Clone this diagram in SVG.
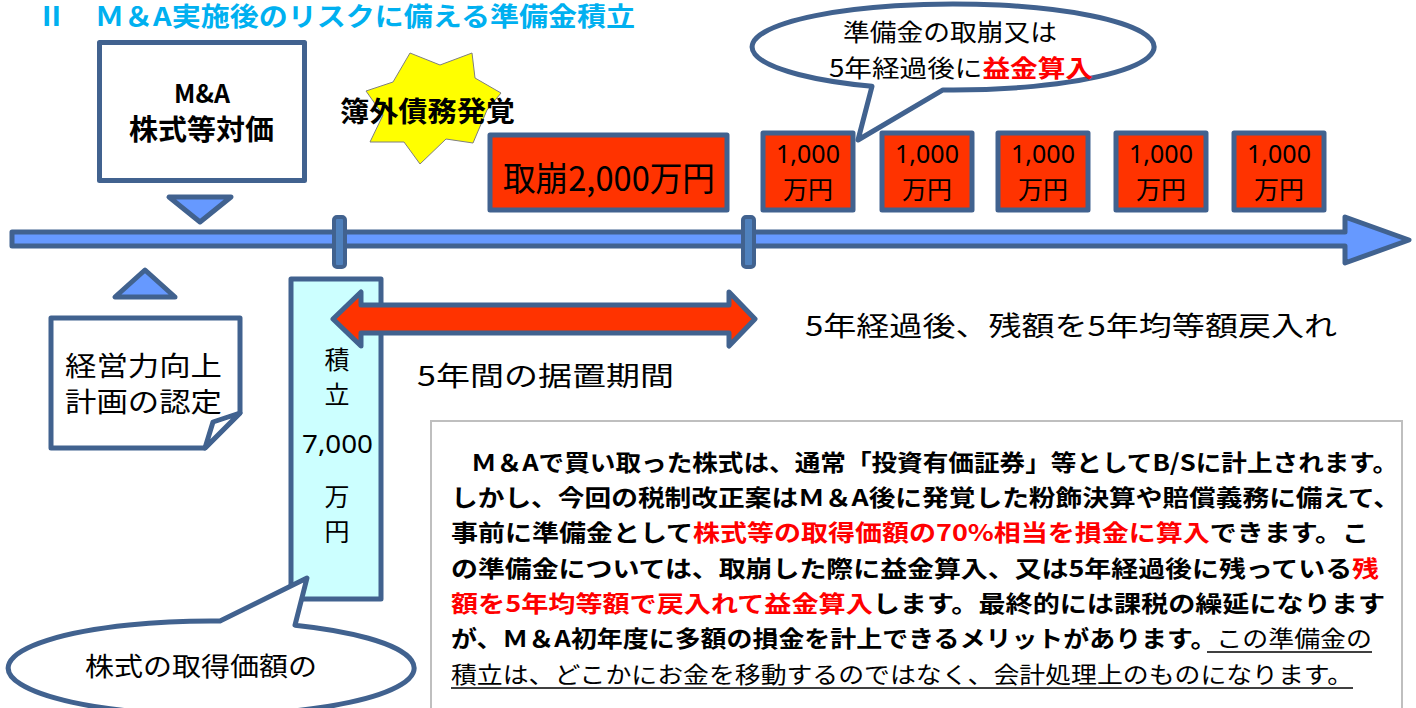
<svg xmlns="http://www.w3.org/2000/svg" width="1416" height="708" viewBox="0 0 1416 708">
<style>
text{font-family:"Noto Sans CJK JP","Noto Sans",sans-serif;fill:#000}
.b{font-weight:bold}
.r{fill:#FF0000}
.ln{stroke:#41628F;stroke-width:5;stroke-linejoin:round}
.lb{fill:#6699FF}
.red{fill:#FF3300}
.num{font-family:"Noto Sans","Noto Sans CJK JP",sans-serif}
.body{font-size:23px;font-weight:bold}
.reg{font-weight:normal}
</style>
<rect width="1416" height="708" fill="#fff"/>
<text x="37" y="26" font-size="26" class="b" style="fill:#00B0F0" textLength="598" lengthAdjust="spacingAndGlyphs">Ⅱ　Ｍ＆A実施後のリスクに備える準備金積立</text>

<g id="ma-box">
<rect x="99.5" y="42.5" width="205" height="138" fill="#fff" class="ln"/>
<text x="202" y="103" font-size="25" class="b" text-anchor="middle">M&amp;A</text>
<text x="129" y="140" font-size="28" class="b" textLength="145" lengthAdjust="spacingAndGlyphs">株式等対価</text>
</g>
<g id="down-triangle">
<polygon points="169,197 231,197 200,222" class="ln lb" stroke-width="4"/>
</g>

<g id="starburst">
<polygon points="410,53 440,65 472,53 475,78 501,93 487,110 473,143 446,139 420,164 404,142 370,142 383,115 366,91 393,82" fill="#FFFF00" stroke="#7F7F7F" stroke-width="1"/>
<text x="340" y="122" font-size="28" class="b" textLength="175" lengthAdjust="spacingAndGlyphs">簿外債務発覚</text>
</g>

<g id="torikuzushi">
<rect x="490" y="135" width="237" height="75" class="ln red" stroke-width="6"/>
<text x="503" y="191" font-size="34" textLength="212" lengthAdjust="spacingAndGlyphs">取崩2,000万円</text>
</g>

<g id="y1"><rect x="763" y="133" width="90" height="77" class="ln red" stroke-width="6"/><text class="num" x="808" y="163" font-size="25" text-anchor="middle">1,000</text><text x="808" y="199" font-size="25" text-anchor="middle">万円</text></g>
<g id="y2"><rect x="882" y="133" width="90" height="77" class="ln red" stroke-width="6"/><text class="num" x="927" y="163" font-size="25" text-anchor="middle">1,000</text><text x="927" y="199" font-size="25" text-anchor="middle">万円</text></g>
<g id="y3"><rect x="998" y="133" width="90" height="77" class="ln red" stroke-width="6"/><text class="num" x="1043" y="163" font-size="25" text-anchor="middle">1,000</text><text x="1043" y="199" font-size="25" text-anchor="middle">万円</text></g>
<g id="y4"><rect x="1116" y="133" width="90" height="77" class="ln red" stroke-width="6"/><text class="num" x="1161" y="163" font-size="25" text-anchor="middle">1,000</text><text x="1161" y="199" font-size="25" text-anchor="middle">万円</text></g>
<g id="y5"><rect x="1234" y="133" width="90" height="77" class="ln red" stroke-width="6"/><text class="num" x="1279" y="163" font-size="25" text-anchor="middle">1,000</text><text x="1279" y="199" font-size="25" text-anchor="middle">万円</text></g>

<g id="top-bubble">
<path d="M872,86.3 L858,140 L943,89.9 A201,43 0 1 0 872,86.3 Z" fill="#fff" class="ln" stroke-width="4"/>
<text x="843" y="41" font-size="24" textLength="214" lengthAdjust="spacingAndGlyphs">準備金の取崩又は</text>
<text x="829" y="77" font-size="24" textLength="264" lengthAdjust="spacingAndGlyphs">5年経過後に<tspan class="r b">益金算入</tspan></text>
</g>

<g id="up-triangle">
<polygon points="145,270 115,297 175,297" class="ln lb" stroke-width="4"/>
</g>

<g id="note">
<path d="M51,318 H240 V413 L205,448 H51 Z" fill="#fff" class="ln"/>
<path d="M240,413 L213,422 L205,448 Z" fill="#fff" class="ln" stroke-width="4"/>
<text x="65" y="376" font-size="27" textLength="157" lengthAdjust="spacingAndGlyphs">経営力向上</text>
<text x="65" y="412" font-size="27" textLength="157" lengthAdjust="spacingAndGlyphs">計画の認定</text>
</g>

<g id="tsumitate">
<rect x="291" y="279" width="90" height="320" fill="#CCFFFF" class="ln"/>
<text x="337" y="369" font-size="25" text-anchor="middle">積</text>
<text x="337" y="404" font-size="25" text-anchor="middle">立</text>
<text class="num" x="302" y="453" font-size="26" textLength="71" lengthAdjust="spacingAndGlyphs">7,000</text>
<text x="337" y="506" font-size="25" text-anchor="middle">万</text>
<text x="337" y="541" font-size="25" text-anchor="middle">円</text>
</g>

<g id="bottom-bubble">
<path d="M220,621.05 L307,578 L295,625.2 A203,47 0 1 1 220,621.05 Z" fill="#fff" class="ln"/>
<text x="85" y="676" font-size="26" textLength="232" lengthAdjust="spacingAndGlyphs">株式の取得価額の</text>
</g>

<g id="labels">
<text x="805" y="336" font-size="27" textLength="532" lengthAdjust="spacingAndGlyphs">5年経過後、残額を5年均等額戻入れ</text>
<text x="417" y="386" font-size="27" textLength="257" lengthAdjust="spacingAndGlyphs">5年間の据置期間</text>
</g>

<g id="explanation">
<rect x="431" y="421" width="971" height="300" fill="#fff" stroke="#BFBFBF" stroke-width="2"/>
<text class="body" x="471" y="471" textLength="927" lengthAdjust="spacingAndGlyphs">Ｍ＆Aで買い取った株式は、通常「投資有価証券」等としてB/Sに計上されます。</text>
<text class="body" x="451" y="506" textLength="949" lengthAdjust="spacingAndGlyphs">しかし、今回の税制改正案はＭ＆A後に発覚した粉飾決算や賠償義務に備えて、</text>
<text class="body" x="451" y="541" textLength="918" lengthAdjust="spacingAndGlyphs">事前に準備金として<tspan class="r">株式等の取得価額の70%相当を損金に算入</tspan>できます。こ</text>
<text class="body" x="451" y="577" textLength="928" lengthAdjust="spacingAndGlyphs">の準備金については、取崩した際に益金算入、又は5年経過後に残っている<tspan class="r">残</tspan></text>
<text class="body" x="451" y="612" textLength="934" lengthAdjust="spacingAndGlyphs"><tspan class="r">額を5年均等額で戻入れて益金算入</tspan>します。最終的には課税の繰延になります</text>
<text class="body" x="451" y="647" textLength="921" lengthAdjust="spacingAndGlyphs">が、Ｍ＆A初年度に多額の損金を計上できるメリットがあります。<tspan class="reg">この準備金の</tspan></text>
<text class="body reg" x="451" y="683" textLength="902" lengthAdjust="spacingAndGlyphs">積立は、どこかにお金を移動するのではなく、会計処理上のものになります。</text>
<line x1="1207" y1="652" x2="1372" y2="652" stroke="#000" stroke-width="1.5"/>
<line x1="451" y1="688" x2="1353" y2="688" stroke="#000" stroke-width="1.5"/>
</g>

<g id="connectors">
<path id="timeline" class="ln lb" stroke-width="4" d="M12,232 H1345 V217 L1409,240 L1345,263 V246 H12 Z"/>
<rect id="tick1" x="334" y="217" width="11" height="50" rx="3" fill="#4F81BD" stroke="#41628F" stroke-width="4"/>
<rect id="tick2" x="743" y="217" width="11" height="50" rx="3" fill="#4F81BD" stroke="#41628F" stroke-width="4"/>
<path id="double-arrow" class="ln red" stroke-width="4" d="M333,319 L361,292 V305 H729 V292 L755,319 L729,346 V333 H361 V346 Z"/>
</g>
</svg>
